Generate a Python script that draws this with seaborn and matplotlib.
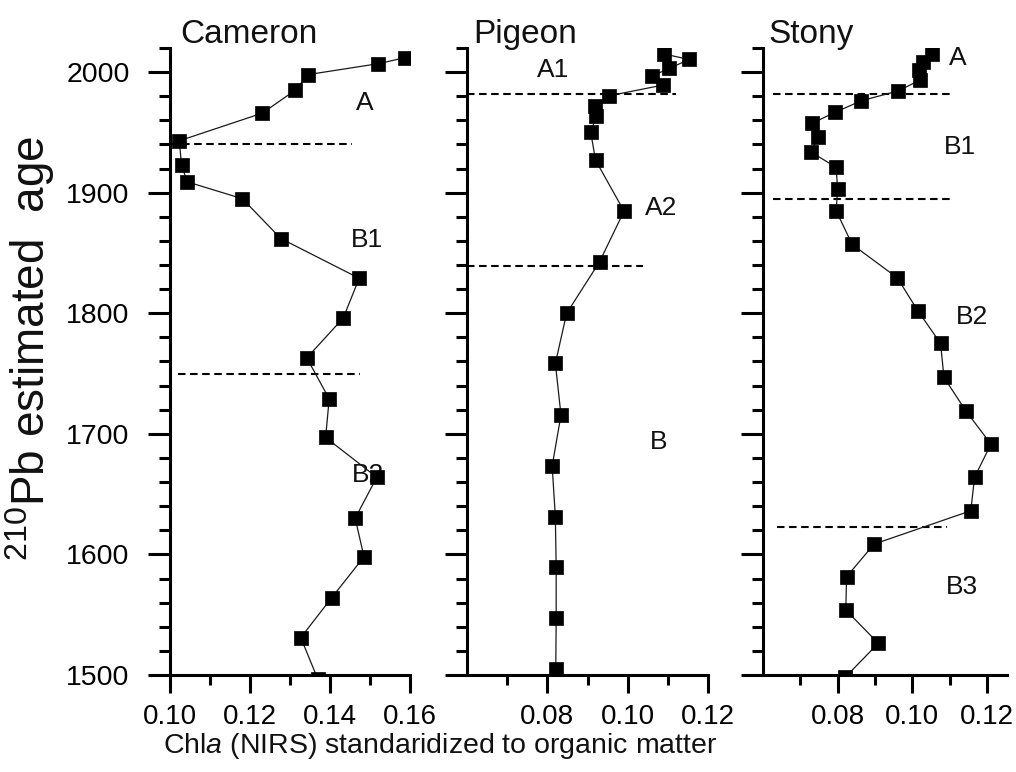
import matplotlib
matplotlib.use("Agg")
import matplotlib.pyplot as plt
from matplotlib.ticker import MultipleLocator, FixedLocator
import pandas as pd
import seaborn as sns

# ---- Chla (NIRS) profiles, standardised to organic matter ----
cameron_year = [2012, 2007, 1998, 1985, 1966, 1943, 1923, 1909, 1895, 1862, 1829,
                1796, 1763, 1729, 1697, 1664, 1630, 1598, 1564, 1531, 1497]
cameron_chla = [0.1588, 0.1521, 0.1346, 0.1313, 0.1231, 0.1023, 0.1029, 0.1043,
                0.1181, 0.1277, 0.1473, 0.1433, 0.1342, 0.1398, 0.1389, 0.1517,
                0.1463, 0.1485, 0.1404, 0.1327, 0.1369]

pigeon_year = [2015, 2010.5, 2003, 1996.7, 1989.2, 1980.3, 1971.8, 1963.5, 1950.2,
               1927, 1884.7, 1842.7, 1799.9, 1758.4, 1715.6, 1673.3, 1631.3,
               1589.3, 1547, 1504.7]
pigeon_chla = [0.1091, 0.1153, 0.1103, 0.1060, 0.1087, 0.0953, 0.0918, 0.0922,
               0.0908, 0.0920, 0.0991, 0.0930, 0.0848, 0.0820, 0.0834, 0.0812,
               0.0820, 0.0822, 0.0822, 0.0821]

stony_year = [2015, 2008.6, 2001.7, 1993.4, 1984.5, 1976.2, 1966.6, 1957.5, 1945.9,
              1933.9, 1921, 1902.7, 1885, 1857.1, 1829.4, 1802.1, 1775, 1746.8,
              1718.9, 1691.5, 1663.9, 1636.2, 1608.6, 1581.5, 1553.9, 1526.3, 1498]
stony_chla = [0.1052, 0.1030, 0.1019, 0.1021, 0.0963, 0.0863, 0.0793, 0.0731,
              0.0748, 0.0728, 0.0796, 0.0800, 0.0796, 0.0839, 0.0960, 0.1015,
              0.1076, 0.1085, 0.1144, 0.1211, 0.1167, 0.1157, 0.0898, 0.0824,
              0.0822, 0.0909, 0.0820]

# zone boundaries: (year, x-start, x-end)
cameron_zones = [(1940, 0.100, 0.1455), (1750, 0.102, 0.1475)]
pigeon_zones = [(1982, 0.060, 0.112), (1839, 0.060, 0.1038)]
stony_zones = [(1982, 0.0627, 0.110), (1895, 0.0627, 0.110), (1623, 0.0637, 0.1093)]

# zone names: (text, x, year)
cameron_zone_names = [("A", 0.1488, 1974), ("B1", 0.1493, 1861), ("B2", 0.1495, 1666)]
pigeon_zone_names = [("A1", 0.0815, 2002), ("A2", 0.1083, 1887), ("B", 0.1078, 1693)]
stony_zone_names = [("A", 0.1123, 2011.5), ("B1", 0.1128, 1938),
                    ("B2", 0.1160, 1797), ("B3", 0.1133, 1573)]

lakes = ["Cameron", "Pigeon", "Stony"]
x_limits = [(0.10, 0.16), (0.06, 0.12), (0.06, 0.1254)]
x_major = [[0.10, 0.12, 0.14, 0.16], [0.08, 0.10, 0.12], [0.08, 0.10, 0.12]]
x_minor = [[0.11, 0.13, 0.15], [0.07, 0.09, 0.11], [0.07, 0.09, 0.11]]
x_ticklabels = [["0.10", "0.12", "0.14", "0.16"], ["0.08", "0.10", "0.12"],
                ["0.08", "0.10", "0.12"]]

sns.set_theme(style="ticks")
plt.rcParams["font.family"] = ["Liberation Sans", "DejaVu Sans"]
plt.rcParams["mathtext.fontset"] = "custom"
plt.rcParams["mathtext.rm"] = "Liberation Sans"
plt.rcParams["mathtext.it"] = "Liberation Sans:italic"

W, H = 1016, 772
fig = plt.figure(figsize=(W / 100, H / 100), dpi=100)
fig.patch.set_facecolor("white")

# panel rectangles in pixels: (left, right); shared top/bottom
panel_px = [(170, 410), (467, 708), (763, 1007)]
top_px, bottom_px = 48, 675
title_offset_px = [10, 6, 5]

profiles = [(cameron_chla, cameron_year), (pigeon_chla, pigeon_year),
            (stony_chla, stony_year)]
zones = [cameron_zones, pigeon_zones, stony_zones]
zone_names = [cameron_zone_names, pigeon_zone_names, stony_zone_names]

for i, lake in enumerate(lakes):
    l, r = panel_px[i]
    ax = fig.add_axes([l / W, (H - bottom_px) / H, (r - l) / W, (bottom_px - top_px) / H])
    ax.set_facecolor("white")

    df = pd.DataFrame({"chla": profiles[i][0], "year": profiles[i][1]})
    sns.lineplot(data=df, x="chla", y="year", sort=False, estimator=None,
                 color="#1a1a1a", linewidth=0.9, marker="s", markersize=9.5,
                 markerfacecolor="black", markeredgecolor="black",
                 markeredgewidth=0.5, ax=ax, zorder=3)

    for yr, x0, x1 in zones[i]:
        ax.plot([x0, x1], [yr, yr], color="black", linewidth=1.5,
                linestyle=(0, (3.6, 2.2)), zorder=2)

    for txt, xv, yv in zone_names[i]:
        ax.text(xv, yv, txt, fontsize=19, ha="center", va="center",
                color="#111111", zorder=1)

    ax.set_xlim(*x_limits[i])
    ax.set_ylim(1500, 2020)
    ax.set_xlabel("")
    ax.set_ylabel("")

    ax.xaxis.set_major_locator(FixedLocator(x_major[i]))
    ax.xaxis.set_minor_locator(FixedLocator(x_minor[i]))
    ax.set_xticklabels(x_ticklabels[i])
    ax.yaxis.set_major_locator(MultipleLocator(100))
    ax.yaxis.set_minor_locator(MultipleLocator(20))

    ax.tick_params(axis="y", which="major", direction="out", length=16, width=2.2,
                   labelsize=20.5, pad=13, color="black", labelcolor="black")
    ax.tick_params(axis="y", which="minor", direction="out", length=8, width=2.2,
                   color="black")
    ax.tick_params(axis="x", which="major", direction="out", length=13, width=2.2,
                   labelsize=20, pad=8, color="black", labelcolor="black")
    ax.tick_params(axis="x", which="minor", direction="out", length=7, width=2.2,
                   color="black")
    if i > 0:
        ax.tick_params(axis="y", labelleft=False)

    for side in ("top", "right"):
        ax.spines[side].set_visible(False)
    for side in ("left", "bottom"):
        ax.spines[side].set_linewidth(2.2)
        ax.spines[side].set_color("black")

    fig.text((l + title_offset_px[i]) / W, 1 - 43 / H, lake, fontsize=24,
             ha="left", va="baseline", color="#111111")

fig.text(30 / W, 1 - 348 / H, r"$\mathregular{^{210}}$Pb estimated  age",
         rotation=90, fontsize=33, ha="center", va="center", color="#111111")
fig.text(163 / W, 1 - 746 / H,
         r"Chl$\mathit{a}$ (NIRS) standaridized to organic matter",
         fontsize=20.5, ha="left", va="center", color="#111111")

fig.savefig("out.png", dpi=100, facecolor="white")
